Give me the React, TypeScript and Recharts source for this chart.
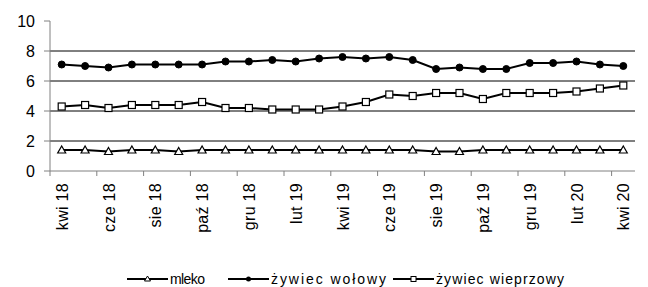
import React from 'react';
import { LineChart, Line, XAxis, YAxis, ReferenceLine } from 'recharts';

const months = [
  'kwi 18', 'maj 18', 'cze 18', 'lip 18', 'sie 18', 'wrz 18', 'paź 18', 'lis 18', 'gru 18',
  'sty 19', 'lut 19', 'mar 19', 'kwi 19', 'maj 19', 'cze 19', 'lip 19', 'sie 19', 'wrz 19',
  'paź 19', 'lis 19', 'gru 19', 'sty 20', 'lut 20', 'mar 20', 'kwi 20',
];

const mleko = [1.4, 1.4, 1.3, 1.4, 1.4, 1.3, 1.4, 1.4, 1.4, 1.4, 1.4, 1.4, 1.4, 1.4, 1.4, 1.4, 1.3, 1.3, 1.4, 1.4, 1.4, 1.4, 1.4, 1.4, 1.4];
const wolowy = [7.1, 7.0, 6.9, 7.1, 7.1, 7.1, 7.1, 7.3, 7.3, 7.4, 7.3, 7.5, 7.6, 7.5, 7.6, 7.4, 6.8, 6.9, 6.8, 6.8, 7.2, 7.2, 7.3, 7.1, 7.0];
const wieprzowy = [4.3, 4.4, 4.2, 4.4, 4.4, 4.4, 4.6, 4.2, 4.2, 4.1, 4.1, 4.1, 4.3, 4.6, 5.1, 5.0, 5.2, 5.2, 4.8, 5.2, 5.2, 5.2, 5.3, 5.5, 5.7];

const yTicks = [0, 2, 4, 6, 8, 10];
const gridValues = [2, 4, 6, 8];

const data = months.map((m, i) => ({
  month: m,
  mleko: mleko[i],
  wolowy: wolowy[i],
  wieprzowy: wieprzowy[i],
}));

const W = 648;
const H = 287;
const margin = { top: 21, right: 13, left: 0, bottom: 0 };
const yAxisWidth = 50;
const xAxisHeight = 116;
const band = (W - margin.left - margin.right - yAxisWidth) / months.length;
const font = 'Liberation Sans, Arial, sans-serif';
const axisGrey = '#808080';

const Triangle = ({ cx, cy }: any) => {
  if (cx == null || cy == null) return null;
  return (
    <polygon
      points={`${cx},${cy - 4} ${cx + 4},${cy + 3} ${cx - 4},${cy + 3}`}
      fill="#fff"
      stroke="#000"
      strokeWidth={1.2}
    />
  );
};

const Square = ({ cx, cy }: any) => {
  if (cx == null || cy == null) return null;
  return <rect x={cx - 3.5} y={cy - 3.5} width={7} height={7} fill="#fff" stroke="#000" strokeWidth={1.2} />;
};

const Circle = ({ cx, cy }: any) => {
  if (cx == null || cy == null) return null;
  return <circle cx={cx} cy={cy} r={3.5} fill="#000" stroke="#000" />;
};

// small legend markers
const TriangleSm = ({ cx, cy }: any) => (
  <polygon points={`${cx},${cy - 3} ${cx + 3},${cy + 2} ${cx - 3},${cy + 2}`} fill="#fff" stroke="#000" strokeWidth={1} />
);
const SquareSm = ({ cx, cy }: any) => (
  <rect x={cx - 2.5} y={cy - 2.5} width={5} height={5} fill="#fff" stroke="#000" strokeWidth={1} />
);
const CircleSm = ({ cx, cy }: any) => <circle cx={cx} cy={cy} r={2.5} fill="#000" />;

const MonthTick = ({ x, y, payload }: any) => {
  const lx = x - band / 2;
  return (
    <g>
      <line x1={lx} y1={y - 12} x2={lx} y2={y - 7} stroke={axisGrey} />
      <text
        transform={`translate(${x + 6},${y}) rotate(-90)`}
        textAnchor="end"
        fontSize={16}
        letterSpacing={0.3}
        fontFamily={font}
        fill="#000"
      >
        {payload.value}
      </text>
    </g>
  );
};

const legendItems = [
  { name: 'mleko', Marker: TriangleSm, width: 101, textWidth: 35 },
  { name: 'żywiec wołowy', Marker: CircleSm, width: 165, textWidth: 115 },
  { name: 'żywiec wieprzowy', Marker: SquareSm, width: 172, textWidth: 128 },
];

const ChartLegend = () => (
  <div
    style={{
      position: 'absolute',
      left: 127,
      top: 271,
      display: 'flex',
    }}
  >
    {legendItems.map(({ name, Marker, width, textWidth }) => (
      <svg key={name} width={width} height={16}>
        <line x1={0} y1={8} x2={41} y2={8} stroke="#000" strokeWidth={2} />
        <Marker cx={20.5} cy={8} />
        <text
          x={43}
          y={13}
          fontSize={14}
          fontFamily={font}
          textLength={textWidth}
          lengthAdjust="spacing"
          fill="#000"
        >
          {name}
        </text>
      </svg>
    ))}
  </div>
);

export default function App() {
  return (
    <div style={{ position: 'absolute', left: 0, top: 0, width: W, height: H, background: '#fff' }}>
      <LineChart width={W} height={H} data={data} margin={margin}>
        <XAxis
          dataKey="month"
          interval={1}
          tick={<MonthTick />}
          tickLine={false}
          tickSize={5}
          tickMargin={7}
          height={xAxisHeight}
          padding={{ left: band / 2, right: band / 2 }}
          axisLine={{ stroke: axisGrey }}
        />
        <YAxis
          width={yAxisWidth}
          domain={[0, 10]}
          ticks={yTicks}
          interval={0}
          tickSize={6}
          tickMargin={9}
          tickLine={{ stroke: axisGrey }}
          axisLine={{ stroke: axisGrey }}
          tick={{ fill: '#000', fontSize: 16, fontFamily: font }}
        />
        {gridValues.map((v) => (
          <ReferenceLine key={v} y={v} stroke="#000" strokeWidth={1} />
        ))}
        <Line dataKey="mleko" stroke="#000" strokeWidth={2} dot={<Triangle />} isAnimationActive={false} />
        <Line dataKey="wolowy" stroke="#000" strokeWidth={2} dot={<Circle />} isAnimationActive={false} />
        <Line dataKey="wieprzowy" stroke="#000" strokeWidth={2} dot={<Square />} isAnimationActive={false} />
      </LineChart>
      <ChartLegend />
    </div>
  );
}
